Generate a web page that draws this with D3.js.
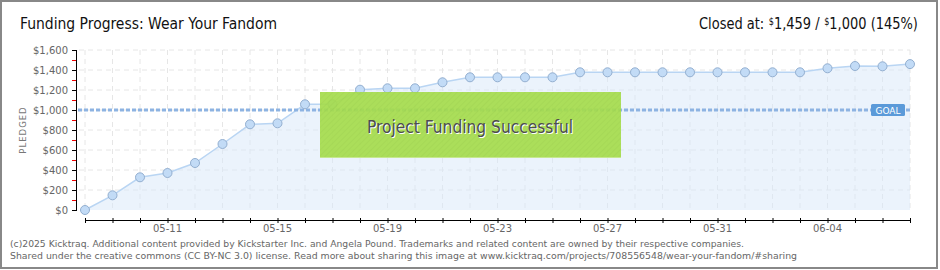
<!DOCTYPE html>
<html>
<head>
<meta charset="utf-8">
<script src="https://cdn.jsdelivr.net/npm/d3@7"></script>
<style>
  body { margin: 0; background: #fff; }
  svg { display: block; }
</style>
</head>
<body>
<svg width="940" height="270"></svg>
<script>
var width = 940;
var height = 270;

var dates = ["2025-05-08","2025-05-09","2025-05-10","2025-05-11","2025-05-12","2025-05-13","2025-05-14",
  "2025-05-15","2025-05-16","2025-05-17","2025-05-18","2025-05-19","2025-05-20","2025-05-21",
  "2025-05-22","2025-05-23","2025-05-24","2025-05-25","2025-05-26","2025-05-27","2025-05-28",
  "2025-05-29","2025-05-30","2025-05-31","2025-06-01","2025-06-02","2025-06-03","2025-06-04",
  "2025-06-05","2025-06-06","2025-06-07"];
var pledged = [0, 147, 327, 370, 470, 660, 857, 867, 1057, 1057, 1203, 1217, 1217, 1277, 1327,
  1327, 1327, 1327, 1377, 1377, 1377, 1377, 1377, 1377, 1377, 1377, 1377, 1417, 1440, 1437, 1459];
var goal = 1000;
var yTicks = [0, 200, 400, 600, 800, 1000, 1200, 1400, 1600];
var yMinor = [100, 300, 500, 700, 900, 1100, 1300, 1500];
var xLabelDates = ["2025-05-11", "2025-05-15", "2025-05-19", "2025-05-23", "2025-05-27", "2025-05-31", "2025-06-04"];

var parse = d3.timeParse("%Y-%m-%d");
var data = dates.map((d, i) => ({date: parse(d), value: pledged[i]}));

var svg = d3.select("svg");
var tickFont = "'DejaVu Sans', sans-serif";
var titleFont = "'Liberation Sans Narrow', 'DejaVu Sans Condensed', 'Roboto', sans-serif";

var x = d3.scaleTime()
    .domain([data[0].date, data[data.length - 1].date])
    .range([85, 910]);
var y = d3.scaleLinear()
    .domain([0, 1600])
    .range([210, 50]);

// hatch for the success banner
var defs = svg.append("defs");
var pat = defs.append("pattern")
    .attr("id", "hatch")
    .attr("width", 4).attr("height", 4)
    .attr("patternUnits", "userSpaceOnUse")
    .attr("patternTransform", "rotate(45)");
pat.append("rect").attr("width", 4).attr("height", 4).attr("fill", "#a5dc4c");
pat.append("line").attr("x1", 0).attr("y1", 0).attr("x2", 0).attr("y2", 4)
    .attr("stroke", "#9fd446").attr("stroke-width", 1.5);

// frame
svg.append("rect")
    .attr("x", 1).attr("y", 1).attr("width", 936).attr("height", 267)
    .attr("fill", "#fff").attr("stroke", "#888").attr("stroke-width", 2);

// titles
svg.append("text")
    .attr("x", 20).attr("y", 29)
    .attr("font-family", titleFont).attr("font-size", 16)
    .attr("textLength", 257).attr("lengthAdjust", "spacingAndGlyphs")
    .attr("fill", "#111")
    .text("Funding Progress: Wear Your Fandom");

// "Closed at" line: pieces laid out one after another, then squeezed to fit
var closedParts = [
  {t: "Closed at:", big: true, gap: 5},
  {t: "$", big: false, gap: 0},
  {t: "1,459 /", big: true, gap: 5},
  {t: "$", big: false, gap: 0},
  {t: "1,000 (145%)", big: true, gap: 0}
];
var cg = svg.append("g");
var cursor = 0;
closedParts.forEach(function(p) {
  var t = cg.append("text")
      .attr("x", cursor)
      .attr("y", p.big ? 0 : -4)
      .attr("font-family", titleFont)
      .attr("font-size", p.big ? 16 : 10)
      .attr("fill", "#111")
      .text(p.t);
  cursor += t.node().getComputedTextLength() + p.gap;
});
var cScale = 219 / cursor;
cg.attr("transform", "translate(699,29) scale(" + cScale + ",1)");

// grid
var grid = svg.append("g").attr("stroke", "#e6e6e6").attr("stroke-dasharray", "5,4");
grid.selectAll(".hg")
    .data(yTicks.slice(1))
    .join("line")
    .attr("class", "hg")
    .attr("x1", 79).attr("x2", 910)
    .attr("y1", d => y(d)).attr("y2", d => y(d));
grid.selectAll(".vg")
    .data(data)
    .join("line")
    .attr("class", "vg")
    .attr("x1", d => x(d.date)).attr("x2", d => x(d.date))
    .attr("y1", y(1600)).attr("y2", y(0));

// area + line
var area = d3.area()
    .x(d => x(d.date))
    .y0(y(0))
    .y1(d => y(d.value));
svg.append("path")
    .datum(data)
    .attr("d", area)
    .attr("fill", "#d8e8fa")
    .attr("fill-opacity", 0.5);

svg.append("path")
    .datum(data)
    .attr("d", d3.line().x(d => x(d.date)).y(d => y(d.value)))
    .attr("fill", "none")
    .attr("stroke", "#b9d5f3")
    .attr("stroke-width", 1.5);

// goal line
svg.append("line")
    .attr("x1", 78).attr("x2", 910)
    .attr("y1", y(goal)).attr("y2", y(goal))
    .attr("stroke", "#8db3e2")
    .attr("stroke-width", 3)
    .attr("stroke-dasharray", "4,2");

// points
svg.selectAll(".pt")
    .data(data)
    .join("circle")
    .attr("class", "pt")
    .attr("cx", d => x(d.date))
    .attr("cy", d => y(d.value))
    .attr("r", 4.5)
    .attr("fill", "#c2dbf6")
    .attr("stroke", "#93afd0")
    .attr("stroke-width", 1);

// goal tag
var gt = svg.append("g").attr("transform", "translate(" + 871 + "," + y(goal) + ")");
gt.append("rect")
    .attr("x", 0).attr("y", -6).attr("width", 34).attr("height", 12)
    .attr("rx", 1.5)
    .attr("fill", "#5b9ad9");
gt.append("text")
    .attr("x", 17).attr("y", 3.5)
    .attr("text-anchor", "middle")
    .attr("font-family", tickFont).attr("font-size", 9)
    .attr("fill", "#fff")
    .text("GOAL");

// success banner
var bw = 301;
svg.append("rect")
    .attr("x", 320).attr("y", 92).attr("width", bw).attr("height", 66)
    .attr("fill", "url(#hatch)")
    .attr("opacity", 0.92);
svg.append("line")
    .attr("x1", 320).attr("x2", 320 + bw)
    .attr("y1", 157.5).attr("y2", 157.5)
    .attr("stroke", "#c6e88f");
svg.append("text")
    .attr("x", 471).attr("y", 134)
    .attr("text-anchor", "middle")
    .attr("font-family", titleFont).attr("font-size", 18)
    .attr("fill", "#fff")
    .attr("textLength", 206).attr("lengthAdjust", "spacingAndGlyphs")
    .text("Project Funding Successful");
svg.append("text")
    .attr("x", 470).attr("y", 133)
    .attr("text-anchor", "middle")
    .attr("font-family", titleFont).attr("font-size", 18)
    .attr("fill", "#4d4d4d")
    .attr("textLength", 206).attr("lengthAdjust", "spacingAndGlyphs")
    .text("Project Funding Successful");

// y axis
var yAxis = svg.append("g")
    .attr("transform", "translate(76,0)")
    .call(d3.axisLeft(y).tickValues(yTicks).tickSize(4).tickFormat(d => "$" + d3.format(",")(d)));
yAxis.select(".domain").attr("stroke", "#000").attr("d", "M0.5," + y(1600) + "V" + y(0));
yAxis.selectAll(".tick line").attr("stroke", "#000").attr("x2", -4).attr("x1", 1);
yAxis.selectAll(".tick text")
    .attr("x", -8)
    .attr("font-family", tickFont).attr("font-size", 10)
    .attr("fill", "#666");
svg.append("g").selectAll("line")
    .data(yMinor)
    .join("line")
    .attr("x1", 72).attr("x2", 76)
    .attr("y1", d => y(d) + 0.5).attr("y2", d => y(d) + 0.5)
    .attr("stroke", "#e00");

svg.append("text")
    .attr("transform", "translate(26,130) rotate(-90)")
    .attr("text-anchor", "middle")
    .attr("font-family", tickFont).attr("font-size", 8.5)
    .attr("letter-spacing", 1)
    .attr("fill", "#777")
    .text("PLEDGED");

// x axis
var xAxis = svg.append("g")
    .attr("transform", "translate(0,220)")
    .call(d3.axisBottom(x).tickValues(data.map(d => d.date)).tickSize(0).tickFormat(""));
xAxis.select(".domain").attr("stroke", "#000");
xAxis.selectAll(".tick line").attr("stroke", "#000").attr("y1", -2).attr("y2", 3);
svg.append("g").selectAll("text")
    .data(xLabelDates.map(parse))
    .join("text")
    .attr("x", d => x(d))
    .attr("y", 232)
    .attr("text-anchor", "middle")
    .attr("font-family", tickFont).attr("font-size", 10)
    .attr("fill", "#666")
    .text(d3.timeFormat("%m-%d"));

// footer
var foot = [
  {t: "(c)2025 Kicktraq. Additional content provided by Kickstarter Inc. and Angela Pound. Trademarks and related content are owned by their respective companies.", w: 734},
  {t: "Shared under the creative commons (CC BY-NC 3.0) license. Read more about sharing this image at www.kicktraq.com/projects/708556548/wear-your-fandom/#sharing", w: 787}
];
svg.append("g").selectAll("text")
    .data(foot)
    .join("text")
    .attr("x", 10)
    .attr("y", (d, i) => 247 + i * 12)
    .attr("font-family", tickFont).attr("font-size", 9.5)
    .attr("fill", "#666")
    .attr("textLength", d => d.w).attr("lengthAdjust", "spacingAndGlyphs")
    .text(d => d.t);
</script>
</body>
</html>
